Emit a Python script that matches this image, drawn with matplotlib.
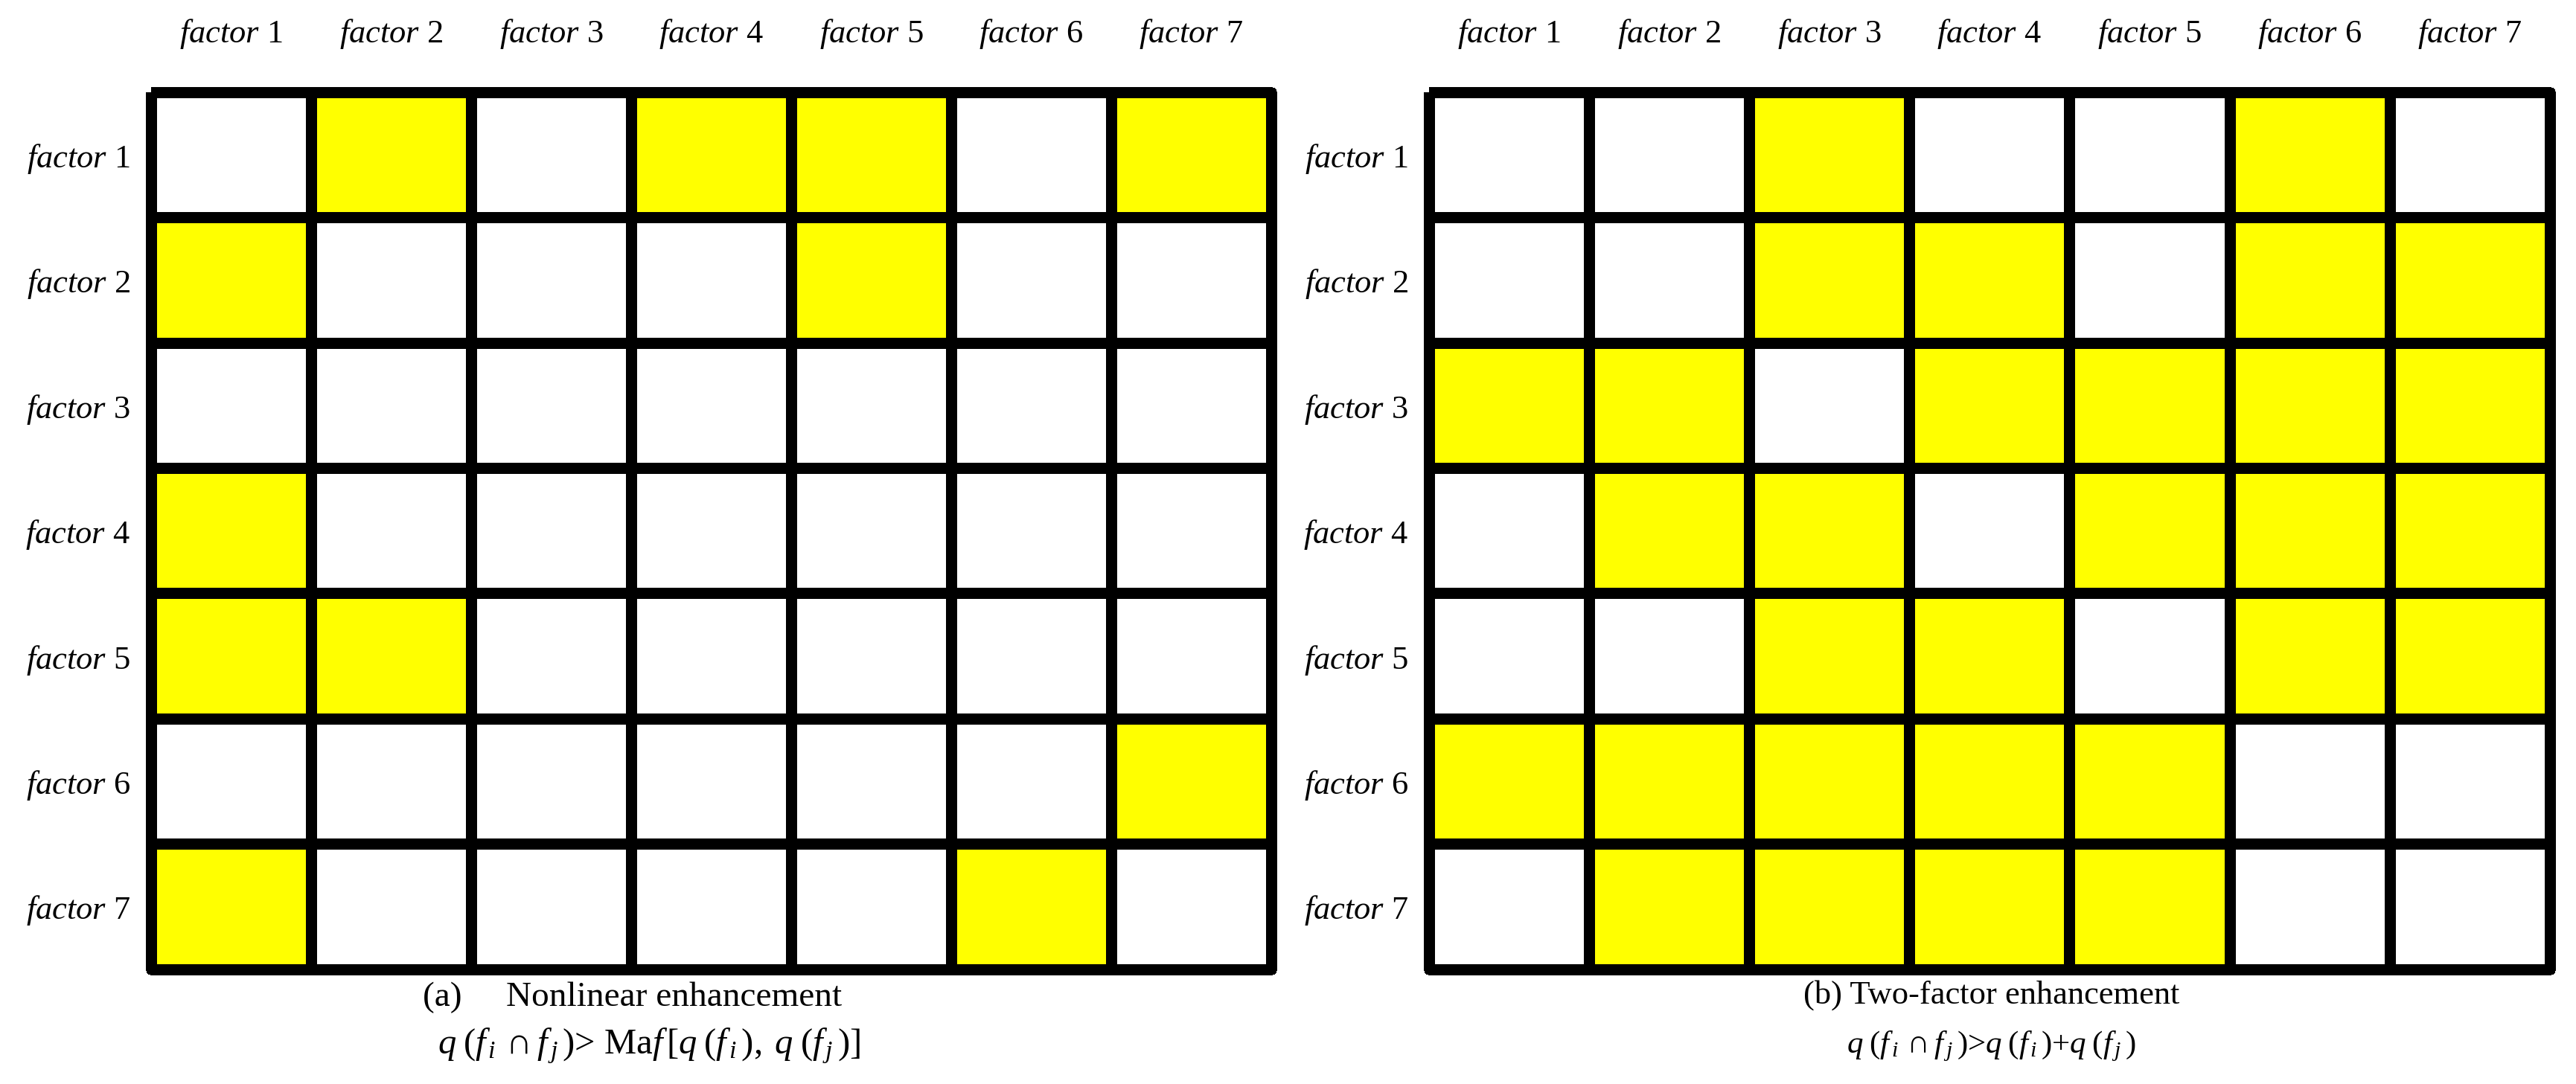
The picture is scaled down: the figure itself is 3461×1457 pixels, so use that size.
import numpy as np
import matplotlib
matplotlib.use('Agg')
import matplotlib.pyplot as plt
from matplotlib.colors import ListedColormap

plt.rcParams['font.family'] = 'Liberation Serif'
plt.rcParams['mathtext.fontset'] = 'custom'
plt.rcParams['mathtext.rm'] = 'Liberation Serif'
plt.rcParams['mathtext.it'] = 'Liberation Serif:italic'

factors = ['factor 1', 'factor 2', 'factor 3', 'factor 4', 'factor 5', 'factor 6', 'factor 7']

# 1 = yellow (enhancement), rows = factor 1..7 top to bottom
nonlinear = [
    [0, 1, 0, 1, 1, 0, 1],
    [1, 0, 0, 0, 1, 0, 0],
    [0, 0, 0, 0, 0, 0, 0],
    [1, 0, 0, 0, 0, 0, 0],
    [1, 1, 0, 0, 0, 0, 0],
    [0, 0, 0, 0, 0, 0, 1],
    [1, 0, 0, 0, 0, 1, 0],
]
two_factor = [
    [0, 0, 1, 0, 0, 1, 0],
    [0, 0, 1, 1, 0, 1, 1],
    [1, 1, 0, 1, 1, 1, 1],
    [0, 1, 1, 0, 1, 1, 1],
    [0, 0, 1, 1, 0, 1, 1],
    [1, 1, 1, 1, 1, 0, 0],
    [0, 1, 1, 1, 1, 0, 0],
]

captions = ['(a)     Nonlinear enhancement', '(b) Two-factor enhancement']
formulas = [r'$q\;(f_{\,i}\,\cap f_{\,j}\,)$> Ma$f\,[q\;(f_{\,i}\,),\; q\;(f_{\,j}\,)]$',
            r'$q\;(f_{\,i}\,\cap f_{\,j}\,)$>$q\;(f_{\,i}\,)$+$q\;(f_{\,j}\,)$']

cmap = ListedColormap(['white', '#ffff00'])
labels = [r'$\mathit{factor}$ ' + f.split()[1] for f in factors]

fig = plt.figure(figsize=(34.61, 14.57), dpi=100)
axes = [fig.add_axes([0.0587, 0.106, 0.4348, 0.809]),
        fig.add_axes([0.5548, 0.106, 0.4350, 0.809])]

for ax, data in zip(axes, [nonlinear, two_factor]):
    arr = np.array(data)
    n = arr.shape[0]
    mesh = ax.pcolormesh(np.arange(n + 1), np.arange(n + 1), arr, cmap=cmap,
                         vmin=0, vmax=1, edgecolors='black', linewidth=9.5)
    mesh.set_clip_on(False)
    ax.set_xlim(0, n)
    ax.set_ylim(n, 0)
    ax.set_xticks(np.arange(n) + 0.5)
    ax.set_yticks(np.arange(n) + 0.5)
    ax.set_xticklabels(labels, fontsize=32)
    ax.set_yticklabels(labels, fontsize=32)
    ax.tick_params(top=True, labeltop=True, bottom=False, labelbottom=False,
                   left=False, length=0)
    ax.tick_params(axis='x', pad=40)
    ax.tick_params(axis='y', pad=20)
    for s in ax.spines.values():
        s.set_visible(False)

fig.text(0.2455, 0.080, captions[0], fontsize=34, ha='center', va='center')
fig.text(0.2520, 0.035, formulas[0], fontsize=35, ha='center', va='center')
fig.text(0.773, 0.082, captions[1], fontsize=32, ha='center', va='center')
fig.text(0.773, 0.035, formulas[1], fontsize=31, ha='center', va='center')

fig.savefig('out.png', dpi=100)
